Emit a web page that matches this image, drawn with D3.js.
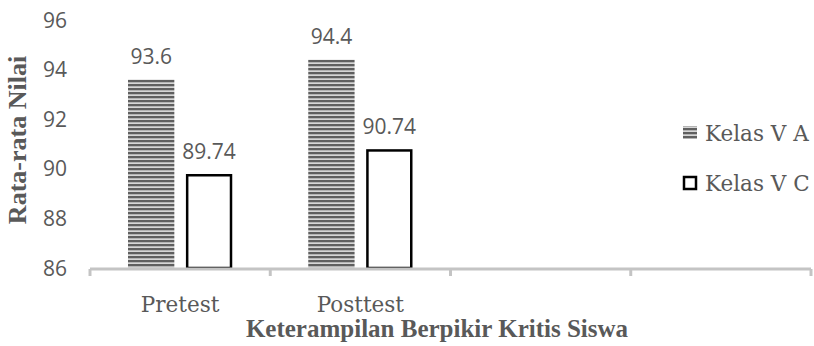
<!DOCTYPE html>
<html>
<head>
<meta charset="utf-8">
<script src="https://cdn.jsdelivr.net/npm/d3@7"></script>
<style>
  html, body { margin: 0; padding: 0; background: #fff; }
  svg { display: block; }
</style>
</head>
<body>
<svg id="chart" width="814" height="346"></svg>
<script>
// Category slots along the x axis (two filled, two empty)
const categories = ["Pretest", "Posttest", "", ""];
const seriesNames = ["Kelas V A", "Kelas V C"];
const kelasVA = [93.6, 94.4];
const kelasVC = [89.74, 90.74];
const yTicks = [86, 88, 90, 92, 94, 96];

const svg = d3.select("#chart");
const textColor = "#595959";
const sansFont = "'Open Sans', sans-serif";
const serifFont = "'DejaVu Serif', serif";
const titleFont = "'Liberation Serif', 'Times New Roman', serif";

const plot = { left: 90, right: 811, top: 20, bottom: 268 };

// Horizontal stripe fill for the Kelas V A bars
const defs = svg.append("defs");
const pat = defs.append("pattern")
  .attr("id", "stripes")
  .attr("patternUnits", "userSpaceOnUse")
  .attr("width", 8).attr("height", 4);
pat.append("rect").attr("width", 8).attr("height", 4).attr("fill", "#b4b4b4");
pat.append("rect").attr("y", 0).attr("width", 8).attr("height", 2).attr("fill", "#5f5f5f");
pat.append("rect").attr("y", 3).attr("width", 8).attr("height", 1).attr("fill", "#d6d6d6");

const x0 = d3.scaleBand()
  .domain(d3.range(categories.length))
  .range([plot.left, plot.right])
  .paddingInner(0).paddingOuter(0);

const x1 = d3.scaleBand()
  .domain([0, 1])
  .range([38, x0.bandwidth() - 38])
  .paddingInner(0.2).paddingOuter(0);

const y = d3.scaleLinear()
  .domain([d3.min(yTicks), d3.max(yTicks)])
  .range([plot.bottom, plot.top]);

// Y tick labels (no axis line)
svg.append("g")
  .selectAll("text")
  .data(yTicks)
  .join("text")
  .attr("x", 67)
  .attr("y", d => y(d))
  .attr("dy", "0.36em")
  .attr("text-anchor", "end")
  .attr("font-family", sansFont)
  .attr("font-size", 21)
  .attr("fill", textColor)
  .text(d => d);

// Bars
const series = [
  { name: seriesNames[0], values: kelasVA, fill: "url(#stripes)", stroke: "none" },
  { name: seriesNames[1], values: kelasVC, fill: "#ffffff", stroke: "#000000" }
];

series.forEach((s, si) => {
  const g = svg.append("g");
  s.values.forEach((v, ci) => {
    const bx = x0(ci) + x1(si);
    const bw = x1.bandwidth();
    g.append("rect")
      .attr("x", bx + (s.stroke === "none" ? 0 : 1.25))
      .attr("y", y(v))
      .attr("width", bw - (s.stroke === "none" ? 0 : 2.5))
      .attr("height", y(yTicks[0]) - y(v))
      .attr("fill", s.fill)
      .attr("stroke", s.stroke)
      .attr("stroke-width", 2.5);
    g.append("text")
      .attr("x", bx + bw / 2)
      .attr("y", y(v) - 16)
      .attr("text-anchor", "middle")
      .attr("font-family", sansFont)
      .attr("font-size", 21)
      .attr("fill", textColor)
      .text(v);
  });
});

// X axis line with category boundary ticks
const axisG = svg.append("g").attr("transform", `translate(0,${plot.bottom + 1})`);
axisG.append("line")
  .attr("x1", plot.left).attr("x2", plot.right)
  .attr("stroke", "#c4c4c4").attr("stroke-width", 3);
const boundaries = d3.range(categories.length + 1).map(i => plot.left + i * x0.step());
axisG.selectAll(".tick")
  .data(boundaries)
  .join("line")
  .attr("class", "tick")
  .attr("x1", d => d).attr("x2", d => d)
  .attr("y1", 0).attr("y2", 7)
  .attr("stroke", "#c4c4c4").attr("stroke-width", 3);

// Category labels
svg.append("g")
  .selectAll("text")
  .data(categories)
  .join("text")
  .attr("x", (d, i) => x0(i) + x0.bandwidth() / 2)
  .attr("y", 312)
  .attr("text-anchor", "middle")
  .attr("font-family", serifFont)
  .attr("font-size", 21.5)
  .attr("fill", textColor)
  .text(d => d);

// Axis titles
svg.append("text")
  .attr("x", 437)
  .attr("y", 337)
  .attr("text-anchor", "middle")
  .attr("font-family", titleFont)
  .attr("font-weight", "bold")
  .attr("font-size", 25)
  .attr("fill", textColor)
  .text("Keterampilan Berpikir Kritis Siswa");

svg.append("text")
  .attr("transform", "translate(26,140) rotate(-90)")
  .attr("text-anchor", "middle")
  .attr("font-family", titleFont)
  .attr("font-weight", "bold")
  .attr("font-size", 26)
  .attr("fill", textColor)
  .text("Rata-rata Nilai");

// Legend
const legend = svg.append("g");
series.forEach((s, i) => {
  const ly = 126 + i * 50;
  legend.append("rect")
    .attr("x", 683 + (s.stroke === "none" ? 0 : 1))
    .attr("y", ly + (s.stroke === "none" ? 0 : 1))
    .attr("width", s.stroke === "none" ? 14 : 12)
    .attr("height", s.stroke === "none" ? 13 : 12)
    .attr("fill", s.fill)
    .attr("stroke", s.stroke)
    .attr("stroke-width", 2.5);
  legend.append("text")
    .attr("x", 705)
    .attr("y", ly + 15)
    .attr("font-family", serifFont)
    .attr("font-size", 21.5)
    .attr("fill", textColor)
    .text(s.name);
});
</script>
</body>
</html>
